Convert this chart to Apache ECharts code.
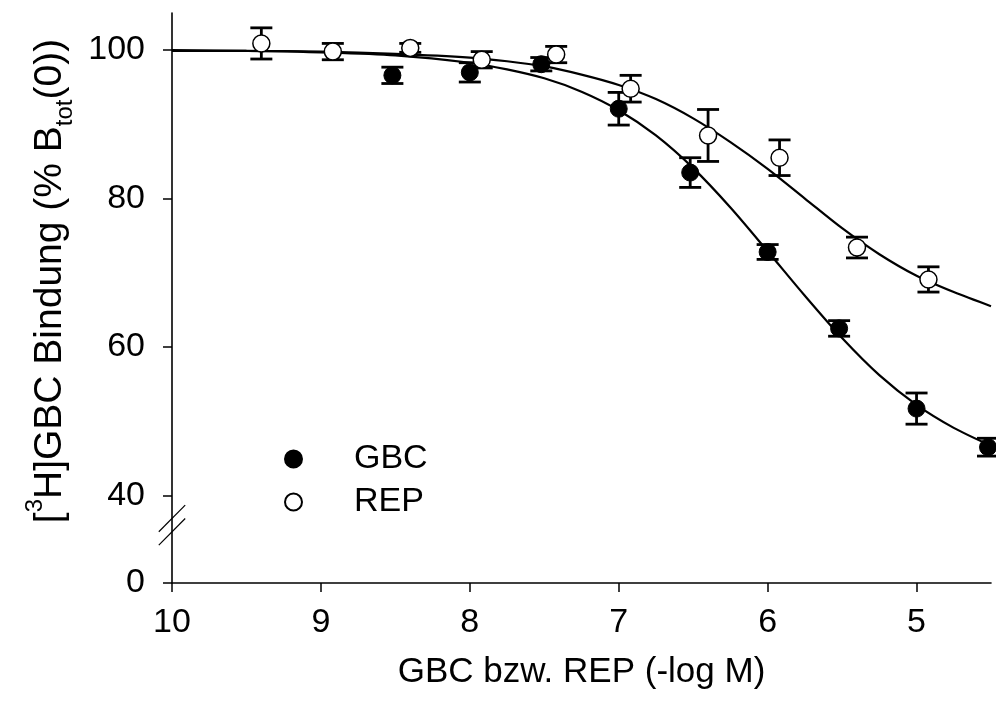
<!DOCTYPE html>
<html>
<head>
<meta charset="utf-8">
<script src="https://cdn.jsdelivr.net/npm/echarts@6/dist/echarts.min.js"></script>
<style>html,body{margin:0;padding:0;background:#fff}#c{width:996px;height:702px}</style>
</head>
<body>
<div id="c"></div>
<script>
// ---- data ----
const gbcX   = [8.52, 8.00, 7.52, 7.00, 6.52, 6.00, 5.52, 5.00, 4.52];
const gbcY   = [96.6, 97.0, 98.1, 92.1, 83.5, 72.8, 62.5, 51.7, 46.5];
const gbcErr = [1.1, 1.3, 0.9, 2.2, 2.0, 1.0, 1.05, 2.1, 1.2];

const repX   = [9.40, 8.92, 8.40, 7.92, 7.42, 6.92, 6.40, 5.92, 5.40, 4.92];
const repY   = [100.9, 99.8, 100.3, 98.7, 99.4, 94.8, 88.5, 85.5, 73.4, 69.1];
const repErr = [2.1, 1.1, 0.6, 1.1, 1.1, 1.8, 3.5, 2.4, 1.4, 1.7];

// fitted curves
const curveX   = [10, 9.5, 9, 8.5, 8, 7.75, 7.5, 7.25, 7, 6.75, 6.5, 6.25, 6, 5.75, 5.5, 5.25, 5, 4.75, 4.5];
const gbcCurve = [99.9, 99.9, 99.7, 99.3, 98.3, 97.4, 96.2, 94.4, 91.9, 88.5, 84.1, 78.8, 72.9, 66.9, 61.2, 56.2, 52.2, 49.1, 46.7];
const repCurve = [100.0, 99.9, 99.8, 99.5, 99.0, 98.5, 97.8, 96.7, 95.3, 93.4, 90.8, 87.6, 84.0, 80.0, 76.0, 72.5, 69.6, 67.4, 65.5];

const xTicks = [5, 6, 7, 8, 9, 10];
const yTicks = [40, 60, 80, 100];
const yBreakZero = 28.2;   // where the "0" of the broken axis sits on the upper scale
const yBreakMark = 36;     // where the break symbol is drawn
const seriesNames = ['GBC', 'REP'];

// ---- chart ----
const FONT = 'Liberation Sans, Arial, sans-serif';
const chart = echarts.init(document.getElementById('c'), null, {renderer: 'canvas'});

const zip = (xs, ys) => xs.map((x, i) => [x, ys[i]]);
const errData = (xs, ys, es) => xs.map((x, i) => [x, ys[i] - es[i], ys[i] + es[i]]);

function errRender(params, api) {
  const x = api.value(0);
  const lo = api.coord([x, api.value(1)]);
  const hi = api.coord([x, api.value(2)]);
  const w = 11;
  const st = {stroke: '#000', lineWidth: 2.8};
  return {
    type: 'group',
    children: [
      {type: 'line', shape: {x1: lo[0], y1: lo[1], x2: hi[0], y2: hi[1]}, style: st},
      {type: 'line', shape: {x1: lo[0] - w, y1: lo[1], x2: lo[0] + w, y2: lo[1]}, style: st},
      {type: 'line', shape: {x1: hi[0] - w, y1: hi[1], x2: hi[0] + w, y2: hi[1]}, style: st}
    ]
  };
}

const yLabelVals = [yBreakZero].concat(yTicks);

const option = {
  animation: false,
  backgroundColor: '#fff',
  textStyle: {fontFamily: FONT},
  grid: {left: 172, right: 5, top: 13, bottom: 119, containLabel: false},
  legend: {
    data: seriesNames,
    orient: 'vertical',
    left: 284, top: 442,
    padding: 0,
    itemWidth: 111, itemHeight: 17, itemGap: 9,
    textStyle: {fontSize: 34, lineHeight: 34, color: '#000', fontFamily: FONT},
    selectedMode: false
  },
  xAxis: {
    type: 'value', min: 4.5, max: 10, inverse: true,
    name: 'GBC bzw. REP (-log M)', nameLocation: 'middle', nameGap: 72,
    nameTextStyle: {fontSize: 35, color: '#000', fontFamily: FONT, lineHeight: 35},
    axisLine: {onZero: false, lineStyle: {color: '#000', width: 1.6}},
    axisTick: {customValues: xTicks, length: 9, lineStyle: {color: '#000', width: 1.5}},
    axisLabel: {customValues: xTicks, margin: 23, fontSize: 34, lineHeight: 34, color: '#000', fontFamily: FONT},
    splitLine: {show: false}
  },
  yAxis: {
    type: 'value', min: yBreakZero, max: 105,
    axisLine: {onZero: false, lineStyle: {color: '#000', width: 1.6}},
    axisTick: {customValues: yLabelVals, length: 9, lineStyle: {color: '#000', width: 1.5}},
    axisLabel: {
      customValues: yLabelVals, margin: 27, fontSize: 34, color: '#000', fontFamily: FONT,
      formatter: v => (v < 39 ? '0' : String(Math.round(v)))
    },
    splitLine: {show: false}
  },
  series: [
    {name: 'GBC fit', type: 'line', data: zip(curveX, gbcCurve), smooth: 0.3, showSymbol: false,
     lineStyle: {color: '#000', width: 2.2}, z: 2, silent: true},
    {name: 'REP fit', type: 'line', data: zip(curveX, repCurve), smooth: 0.3, showSymbol: false,
     lineStyle: {color: '#000', width: 2.2}, z: 2, silent: true},
    {name: 'GBC err', type: 'custom', renderItem: errRender, data: errData(gbcX, gbcY, gbcErr), z: 3, silent: true},
    {name: 'REP err', type: 'custom', renderItem: errRender, data: errData(repX, repY, repErr), z: 3, silent: true},
    {name: seriesNames[0], type: 'scatter', data: zip(gbcX, gbcY), symbol: 'circle', symbolSize: 17,
     itemStyle: {color: '#000', borderColor: '#000', borderWidth: 1, opacity: 1}, z: 5},
    {name: seriesNames[1], type: 'scatter', data: zip(repX, repY), symbol: 'circle', symbolSize: 17,
     itemStyle: {color: '#fff', borderColor: '#000', borderWidth: 1.5, opacity: 1}, z: 5}
  ]
};
chart.setOption(option);

// axis break symbol and y-axis title
const bp = chart.convertToPixel({gridIndex: 0}, [10, yBreakMark]);
const slash = (cy) => ({
  type: 'line', z: 100,
  shape: {x1: bp[0] - 13.2, y1: cy + 13.3, x2: bp[0] + 13.2, y2: cy - 13.3},
  style: {stroke: '#000', lineWidth: 1.2}
});
chart.setOption({
  graphic: [
    slash(bp[1] - 6.7),
    slash(bp[1] + 6.7),
    {
      type: 'text', x: 50, y: 281, rotation: Math.PI / 2, z: 100,
      style: {
        text: '[{sup|3}H]GBC Bindung (% B{sub|tot}(0))',
        fontSize: 39, fontFamily: FONT, lineHeight: 54, fill: '#000',
        align: 'center', verticalAlign: 'middle',
        rich: {
          sup: {fontSize: 24, lineHeight: 23, verticalAlign: 'top', fontFamily: FONT, fill: '#000'},
          sub: {fontSize: 24, lineHeight: 28, verticalAlign: 'bottom', fontFamily: FONT, fill: '#000'}
        }
      }
    }
  ]
});
</script>
</body>
</html>
